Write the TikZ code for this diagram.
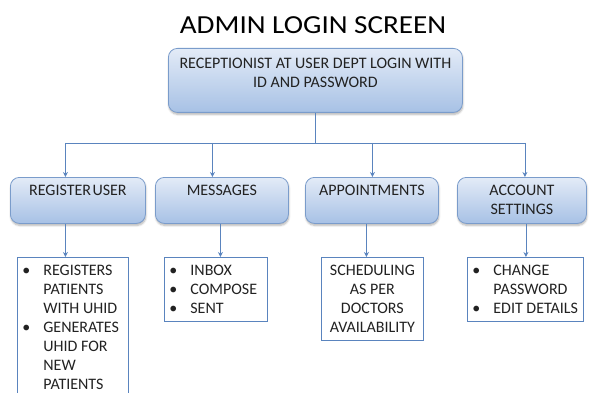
\documentclass[tikz,border=0pt]{standalone}
\usepackage{fontspec}
\usepackage{graphicx}
\setmainfont{Carlito}
\usetikzlibrary{arrows.meta,shadows.blur}

\definecolor{boxline}{HTML}{7A9CCB}
\definecolor{boxtop}{HTML}{E3EBF7}
\definecolor{boxbot}{HTML}{A7C1E5}
\definecolor{wire}{HTML}{5A84BE}
\definecolor{ink}{HTML}{222222}

% top-aligned centred text block: height, width, first baseline, text
\newcommand\headbox[4]{\parbox[c][#1][t]{#2}{\centering\rule{0pt}{#3}#4}}
% top-aligned bullet list block: height, width, first baseline, rows
\newcommand\listbox[4]{\parbox[c][#1][t]{#2}{\rule{0pt}{#3}\hspace*{5pt}%
  \begin{tabular}[t]{@{}p{21pt}@{}l@{}}#4\end{tabular}}}

\tikzset{
  menubox/.style={draw=boxline, line width=0.8pt, rounded corners=9pt,
    top color=boxtop, bottom color=boxbot, inner sep=0pt, anchor=north west,
    text=ink, blur shadow={shadow xshift=0.5pt, shadow yshift=-2pt,
    shadow opacity=30, shadow blur steps=6}},
  listframe/.style={draw=wire, line width=0.8pt, fill=white, inner sep=0pt,
    anchor=north west, text=ink},
  link/.style={draw=wire, line width=0.8pt},
  arrow/.style={link, -{Stealth[length=5pt,width=5pt]}},
}

\begin{document}
\begin{tikzpicture}[x=1pt, y=-1pt, font=\fontsize{16}{19}\selectfont]
\useasboundingbox (0,0) rectangle (589,393);
\clip (0,0) rectangle (589,393);

% title
\node[anchor=base, font=\fontsize{26}{30}\selectfont, text=black] (title) at (313,34)
  {\scalebox{1.12}[1]{ADMIN LOGIN SCREEN}};

% login box
\node[menubox] (login) at (168,48)
  {\headbox{64pt}{294pt}{20pt}{RECEPTIONIST AT USER DEPT LOGIN WITH\\ID AND PASSWORD}};

% menu boxes
\node[menubox] (reg) at (10,177)  {\headbox{46pt}{135pt}{18pt}{REGISTER\hspace{1.5pt}USER}};
\node[menubox] (msg) at (155,177) {\headbox{46pt}{133pt}{18pt}{MESSAGES}};
\node[menubox] (app) at (305,177) {\headbox{46pt}{133pt}{18pt}{APPOINTMENTS}};
\node[menubox] (acc) at (457,177) {\headbox{46pt}{129pt}{18pt}{ACCOUNT\\SETTINGS}};

% detail boxes
\node[listframe] (regl) at (17,257) {\listbox{150pt}{111pt}{18pt}{%
  \textbullet & REGISTERS\\ & PATIENTS\\ & WITH UHID\\
  \textbullet & GENERATES\\ & UHID FOR\\ & NEW\\ & PATIENTS}};
\node[listframe] (msgl) at (164,257) {\listbox{64pt}{103pt}{18pt}{%
  \textbullet & INBOX\\ \textbullet & COMPOSE\\ \textbullet & SENT}};
\node[listframe] (appl) at (321,257)
  {\headbox{83pt}{102pt}{18pt}{SCHEDULING\\AS PER\\DOCTORS\\AVAILABILITY}};
\node[listframe] (accl) at (467,257) {\listbox{64pt}{116pt}{18pt}{%
  \textbullet & CHANGE\\ & PASSWORD\\ \textbullet & EDIT DETAILS}};

% connectors
\coordinate (bus) at (0,143);
\draw[link] (login.south) -- (login.south |- bus);
\draw[link] ([xshift=-12.5pt]reg.north |- bus) -- ([xshift=3pt]acc.north |- bus);
\draw[arrow] ([xshift=-12.5pt]reg.north |- bus) -- ([xshift=-12.5pt]reg.north);
\draw[arrow] ([xshift=-9.5pt]msg.north |- bus) -- ([xshift=-9.5pt]msg.north);
\draw[arrow] ([xshift=0.5pt]app.north |- bus) -- ([xshift=0.5pt]app.north);
\draw[arrow] ([xshift=3pt]acc.north |- bus) -- ([xshift=3pt]acc.north);

\draw[arrow] ([xshift=-12.5pt]reg.south) -- ([xshift=-12.5pt]reg.south |- regl.north);
\draw[arrow] ([xshift=-1.5pt]msg.south) -- ([xshift=-1.5pt]msg.south |- msgl.north);
\draw[arrow] ([xshift=-5.5pt]app.south) -- ([xshift=-5.5pt]app.south |- appl.north);
\draw[arrow] ([xshift=4pt]acc.south) -- ([xshift=4pt]acc.south |- accl.north);
\end{tikzpicture}
\end{document}
